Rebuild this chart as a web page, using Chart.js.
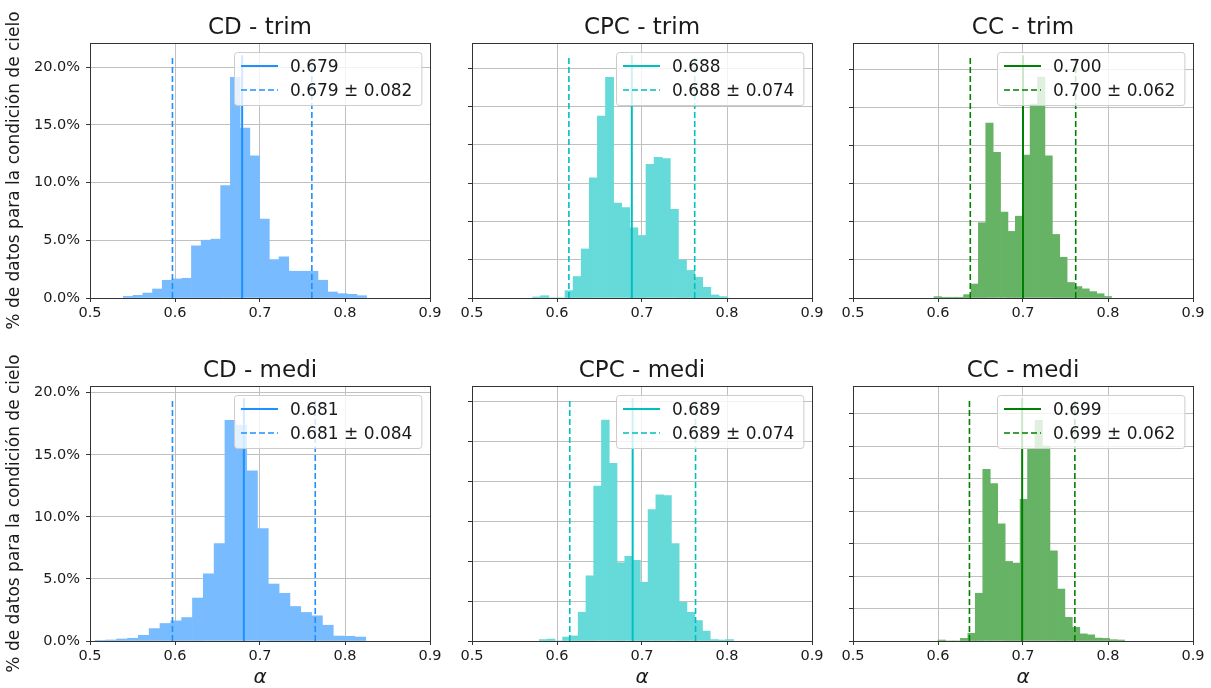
<!DOCTYPE html>
<html>
<head>
<meta charset="utf-8">
<script src="https://cdn.jsdelivr.net/npm/chart.js@4.4.1/dist/chart.umd.min.js"></script>
<style>
  html, body { margin: 0; padding: 0; background: #fff; overflow: hidden; }
  body { width: 1211px; height: 688px; position: relative; }
  canvas { position: absolute; }
</style>
</head>
<body>
<canvas id="p0" width="510" height="342" style="left:5px;top:0px"></canvas>
<canvas id="p1" width="510" height="342" style="left:387px;top:0px"></canvas>
<canvas id="p2" width="510" height="342" style="left:768px;top:0px"></canvas>
<canvas id="p3" width="510" height="345" style="left:5px;top:343px"></canvas>
<canvas id="p4" width="510" height="345" style="left:387px;top:343px"></canvas>
<canvas id="p5" width="510" height="345" style="left:768px;top:343px"></canvas>
<script>
// --- Porcentaje de datos por bin (%) de cada condición de cielo ---
const CD_TRIM  = [0.14, 0.23, 0.43, 0.78, 1.54, 1.65, 1.71, 4.52, 5.01, 5.10, 9.74, 19.13, 14.72,
                  12.32, 6.84, 3.33, 3.57, 2.32, 2.32, 2.32, 1.54, 0.52, 0.38, 0.32, 0.20];
const CPC_TRIM = [0.07, 0.15, 0, 0, 0.48, 1.40, 3.20, 7.85, 11.88, 14.40, 6.20, 5.90, 4.58, 4.08,
                  8.73, 9.18, 9.10, 5.78, 2.48, 1.80, 1.35, 0.70, 0.20, 0.09];
const CC_TRIM  = [0.09, 0.05, 0.05, 0.05, 0.22, 0.92, 4.95, 11.50, 9.58, 5.65, 4.38, 5.38, 9.40,
                  12.75, 14.52, 9.35, 4.18, 2.68, 1.02, 0.75, 0.60, 0.42, 0.28, 0.10];
const CD_MEDI  = [0.05, 0.08, 0.16, 0.22, 0.46, 1.00, 1.41, 1.62, 1.89, 3.46, 5.41, 7.84, 17.78,
                  17.40, 13.70, 9.05, 4.59, 3.84, 2.78, 2.30, 2.03, 1.27, 0.40, 0.38, 0.32];
const CPC_MEDI = [0.09, 0.12, 0, 0.25, 0.32, 1.80, 4.08, 9.70, 13.82, 11.12, 4.90, 5.30, 5.05, 3.68,
                  8.22, 9.15, 9.10, 6.10, 2.42, 1.80, 1.28, 0.62, 0.09, 0.06, 0.09];
const CC_MEDI  = [0.06, 0, 0, 0.16, 0.48, 2.94, 10.58, 9.70, 7.22, 4.90, 4.80, 8.72, 11.80, 13.60,
                  12.00, 5.56, 3.20, 1.46, 0.84, 0.44, 0.38, 0.18, 0.16, 0.08, 0.06];

const TITULOS   = ['CD - trim', 'CPC - trim', 'CC - trim', 'CD - medi', 'CPC - medi', 'CC - medi'];
const PORCENTAJES = [CD_TRIM, CPC_TRIM, CC_TRIM, CD_MEDI, CPC_MEDI, CC_MEDI];
const MEDIAS    = [0.679, 0.688, 0.700, 0.681, 0.689, 0.699];
const DESVIOS   = [0.082, 0.074, 0.062, 0.084, 0.074, 0.062];
// borde izquierdo del primer bin y ancho de bin (alfa)
const INICIO_BIN = [0.5392, 0.5713, 0.5953, 0.5059, 0.5792, 0.6000];
const ANCHO_BIN  = [0.01145, 0.00953, 0.0087, 0.01274, 0.00914, 0.00878];
// altura (%) hasta donde llegan las líneas verticales
const ALTO_LINEAS = [21.05, 15.85, 15.97, 19.56, 15.20, 14.96];
const PASO_Y      = [5, 2.5, 2.5, 5, 2.5, 2];
const X_TICKS     = [0.5, 0.6, 0.7, 0.8, 0.9];

const COLOR_LINEA = ['#1e90ff', '#00bfbf', '#008000'];
const COLOR_BARRA = ['#78bcff', '#66d9d9', '#66b366'];   // mismo color con alpha 0.6 sobre blanco
const FUENTE = "'DejaVu Sans', sans-serif";
const TEXTO = '#1a1a1a';
const GRILLA = '#c0c0c0';
const EJE = '#333333';

Chart.defaults.animation = false;
Chart.defaults.font.family = FUENTE;

// Leyenda dentro del área (arriba a la derecha) y marco completo de los ejes
const leyendaInterna = {
  id: 'leyendaInterna',
  afterDraw(chart) {
    const { ctx, chartArea: a } = chart;
    ctx.save();
    ctx.strokeStyle = EJE;
    ctx.lineWidth = 1;
    ctx.strokeRect(a.left + 0.5, a.top + 0.5, a.right - a.left, a.bottom - a.top);

    const items = chart.data.datasets.filter(d => d.type === 'line' && d.label);
    ctx.font = '17px ' + FUENTE;
    const wTexto = Math.max(...items.map(d => ctx.measureText(d.label).width));
    const w = 7 + 37 + 12 + wTexto + 9, h = 53;
    const x0 = Math.round(a.right - 9 - w), y0 = a.top + 9;
    ctx.beginPath();
    ctx.roundRect(x0 + 0.5, y0 + 0.5, w, h, 3);
    ctx.fillStyle = 'rgba(255,255,255,0.8)';
    ctx.fill();
    ctx.strokeStyle = '#cccccc';
    ctx.stroke();
    items.forEach((d, k) => {
      const yc = y0 + 14 + k * 24;
      ctx.beginPath();
      ctx.setLineDash(d.borderDash || []);
      ctx.lineWidth = d.borderWidth;
      ctx.strokeStyle = d.borderColor;
      ctx.moveTo(x0 + 7, yc);
      ctx.lineTo(x0 + 44, yc);
      ctx.stroke();
      ctx.setLineDash([]);
      ctx.fillStyle = TEXTO;
      ctx.textBaseline = 'alphabetic';
      ctx.fillText(d.label, x0 + 56, yc + 6.2);
    });
    ctx.restore();
  }
};

function crearPanel(i) {
  const col = i % 3, fila = Math.floor(i / 3);
  const m = MEDIAS[i], s = DESVIOS[i], alto = ALTO_LINEAS[i];
  const barras = PORCENTAJES[i].map((v, k) => ({ x: INICIO_BIN[i] + (k + 0.5) * ANCHO_BIN[i], y: v }));
  const vertical = x => [{ x, y: 0 }, { x, y: alto }];
  const c = COLOR_LINEA[col];

  new Chart(document.getElementById('p' + i), {
    type: 'bar',
    data: {
      datasets: [
        { type: 'line', label: m.toFixed(3), data: vertical(m), borderColor: c, borderWidth: 2,
          pointRadius: 0, fill: false, order: 0 },
        { type: 'line', label: `${m.toFixed(3)} ± ${s.toFixed(3)}`, data: vertical(m - s), borderColor: c,
          borderWidth: 1.6, borderDash: [6, 3], pointRadius: 0, fill: false, order: 0 },
        { type: 'line', label: '', data: vertical(m + s), borderColor: c,
          borderWidth: 1.6, borderDash: [6, 3], pointRadius: 0, fill: false, order: 0 },
        { type: 'bar', data: barras, backgroundColor: COLOR_BARRA[col], borderWidth: 0,
          barPercentage: 1, categoryPercentage: 1, order: 1 }
      ]
    },
    options: {
      responsive: false,
      devicePixelRatio: 1,
      events: [],
      layout: { padding: 0 },
      plugins: {
        legend: { display: false },
        tooltip: { enabled: false },
        title: {
          display: true, text: TITULOS[i], color: TEXTO,
          font: { family: FUENTE, size: 23, weight: 'normal', lineHeight: 1 },
          padding: { top: 17, bottom: 3 }
        }
      },
      scales: {
        x: {
          type: 'linear', min: 0.5, max: 0.9, offset: false, z: 1,
          afterFit: sc => { sc.height = fila ? 47 : 44; },
          afterBuildTicks: sc => { sc.ticks = X_TICKS.map(v => ({ value: v })); },
          border: { display: false },
          grid: { offset: false, color: GRILLA, lineWidth: 1, tickColor: EJE, tickLength: 4 },
          ticks: { autoSkip: false, maxRotation: 0, padding: 3, color: TEXTO,
                   font: { size: 14.5 }, callback: v => v.toFixed(1) },
          title: {
            display: fila === 1, text: 'α', color: TEXTO,
            font: { family: FUENTE, size: 20, style: 'italic', lineHeight: 1 },
            padding: { top: 0, bottom: 0 }
          }
        },
        y: {
          min: 0, max: alto * 1.05, z: 1,
          afterFit: sc => { sc.width = 85; },
          border: { display: false },
          grid: { color: GRILLA, lineWidth: 1, tickColor: EJE, tickLength: 4 },
          ticks: { stepSize: PASO_Y[i], includeBounds: false, padding: 6, color: TEXTO,
                   font: { size: 14.5 },
                   callback: v => col === 0 ? v.toFixed(1) + '%' : '' },
          title: {
            display: col === 0, text: '% de datos para la condición de cielo', color: TEXTO,
            font: { family: FUENTE, size: 17, lineHeight: 1 },
            padding: { top: 1, bottom: 0 }
          }
        },
        // eje derecho vacío para que el título quede centrado sobre el área
        y2: {
          position: 'right', display: true,
          afterFit: sc => { sc.width = 85; },
          border: { display: false }, grid: { display: false }, ticks: { display: false }
        }
      }
    },
    plugins: [leyendaInterna]
  });
}

for (let i = 0; i < 6; i++) crearPanel(i);
</script>
</body>
</html>
